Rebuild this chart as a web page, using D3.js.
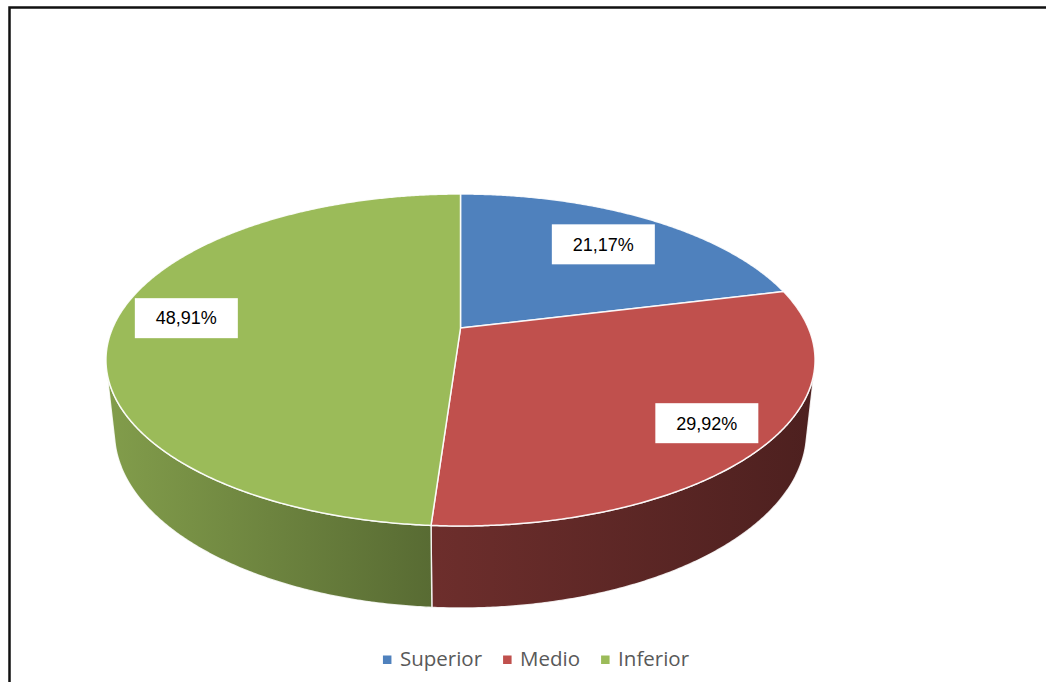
<!DOCTYPE html>
<html>
<head>
<meta charset="utf-8">
<script src="https://cdn.jsdelivr.net/npm/d3@7"></script>
<style>
  body { margin: 0; background: #fff; }
  svg { display: block; }
</style>
</head>
<body>
<svg id="chart" width="1046" height="682"></svg>
<script>
// Share of each level (%)
const categories = ["Superior", "Medio", "Inferior"];
const shares = [21.17, 29.92, 48.91];
const colors = ["#4f81bd", "#c0504d", "#9bbb59"];

// Where each value box sits on its slice: radial fraction and angular nudge (deg)
const labelRadius = [0.74, 0.83, 0.80];
const labelNudge = [0, 0, 2.5];

const svg = d3.select("#chart");

// Chart frame
svg.append("rect")
  .attr("x", 9.5).attr("y", 7.5)
  .attr("width", 1080).attr("height", 720)
  .attr("fill", "none")
  .attr("stroke", "#111")
  .attr("stroke-width", 2.5);

// Perspective camera looking down on a unit disc
const view = { cx: 460.5, cy: 328, f: 1603, tilt: 27.35 * Math.PI / 180, dist: 4.608, depth: 0.2356 };
const sT = Math.sin(view.tilt), cT = Math.cos(view.tilt);

function project(x, h, z) {
  const d = view.dist - (h * sT + z * cT);
  const yc = h * cT - z * sT;
  return [view.cx + view.f * x / d, view.cy - view.f * yc / d];
}
// angle a measured clockwise from the back of the disc (12 o'clock)
function rim(a, r, h) {
  return project(r * Math.sin(a), h, -r * Math.cos(a));
}
function arcPoints(a0, a1, r, h) {
  const n = Math.max(2, Math.ceil(Math.abs(a1 - a0) / (0.4 * Math.PI / 180)));
  return d3.range(n + 1).map(i => rim(a0 + (a1 - a0) * i / n, r, h));
}

const pie = d3.pie().sort(null).value(d => d);
const arcs = pie(shares);
const line = d3.line();

// Visible part of the cylinder wall (between the two silhouette generators)
const aRight = Math.acos(-1 / (view.dist * cT));
const aLeft = 2 * Math.PI - aRight;

const leftX = rim(aLeft, 1, 0)[0];
const rightX = rim(aRight, 1, 0)[0];

const defs = svg.append("defs");
function shade(col, k) {
  const c = d3.rgb(col);
  return d3.rgb(c.r * k, c.g * k, c.b * k).formatHex();
}
colors.forEach((col, i) => {
  const g = defs.append("linearGradient")
    .attr("id", "side" + i)
    .attr("gradientUnits", "userSpaceOnUse")
    .attr("x1", leftX).attr("x2", rightX)
    .attr("y1", 0).attr("y2", 0);
  [[0, 0.84], [0.46, 0.57], [1, 0.40]].forEach(([o, k]) => {
    g.append("stop").attr("offset", o).attr("stop-color", shade(col, k));
  });
});

// Side walls
const sides = svg.append("g");
arcs.forEach((d, i) => {
  const a0 = Math.max(d.startAngle, aRight);
  const a1 = Math.min(d.endAngle, aLeft);
  if (a1 <= a0) return;
  const pts = arcPoints(a0, a1, 1, 0).concat(arcPoints(a1, a0, 1, -view.depth));
  sides.append("path")
    .attr("d", line(pts) + "Z")
    .attr("fill", `url(#side${i})`)
    .attr("stroke", "#fff")
    .attr("stroke-opacity", 0.85)
    .attr("stroke-width", 1.4)
    .attr("stroke-linejoin", "round");
});

// Top faces
const apex = project(0, 0, 0);
const tops = svg.append("g");
arcs.forEach((d, i) => {
  const pts = [apex].concat(arcPoints(d.startAngle, d.endAngle, 1, 0));
  tops.append("path")
    .attr("d", line(pts) + "Z")
    .attr("fill", colors[i])
    .attr("stroke", "#fff")
    .attr("stroke-opacity", 0.9)
    .attr("stroke-width", 1.5)
    .attr("stroke-linejoin", "round");
});

// Value boxes
const fmt = d3.formatLocale({ decimal: ",", thousands: ".", grouping: [3], currency: ["", "€"] }).format(".2f");
const labels = svg.append("g");
arcs.forEach((d, i) => {
  const mid = (d.startAngle + d.endAngle) / 2 + labelNudge[i] * Math.PI / 180;
  const [x, y] = rim(mid, labelRadius[i], 0);
  const g = labels.append("g").attr("transform", `translate(${x},${y})`);
  g.append("rect")
    .attr("x", -51.5).attr("y", -20)
    .attr("width", 103).attr("height", 40)
    .attr("fill", "#fff");
  g.append("text")
    .attr("text-anchor", "middle")
    .attr("dy", "0.35em")
    .attr("font-family", "'Liberation Sans', Arial, sans-serif")
    .attr("font-size", 18)
    .attr("fill", "#000")
    .text(fmt(shares[i]) + "%");
});

// Legend
const legend = svg.append("g");
const items = categories.map((name, i) => {
  const g = legend.append("g");
  g.append("rect")
    .attr("x", 0).attr("y", -10.5)
    .attr("width", 8.5).attr("height", 8.5)
    .attr("fill", colors[i]);
  const t = g.append("text")
    .attr("x", 17)
    .attr("font-family", "'Open Sans', sans-serif")
    .attr("font-size", 20.5)
    .attr("fill", "#595959")
    .text(name);
  return { g, w: 17 + t.node().getComputedTextLength() };
});
const gap = 21;
const total = d3.sum(items, d => d.w) + gap * (items.length - 1);
let xPos = 536 - total / 2;
items.forEach(it => {
  it.g.attr("transform", `translate(${xPos},666)`);
  xPos += it.w + gap;
});
</script>
</body>
</html>
